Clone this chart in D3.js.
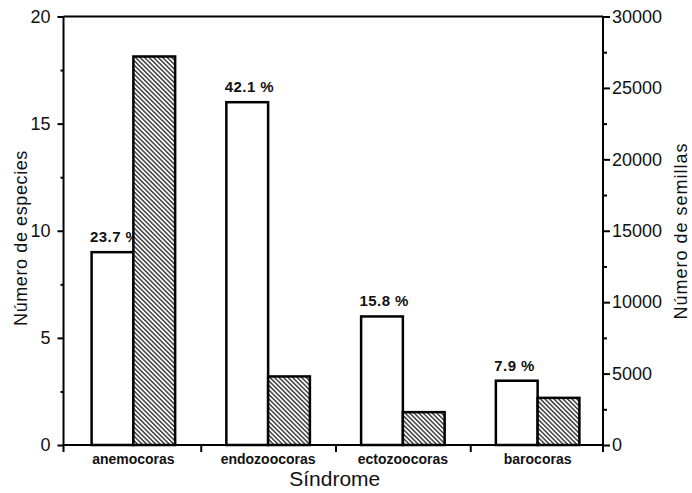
<!DOCTYPE html>
<html>
<head>
<meta charset="utf-8">
<script src="https://cdn.jsdelivr.net/npm/d3@7/dist/d3.min.js"></script>
<style>
  html, body { margin: 0; padding: 0; background: #fff; }
  svg { display: block; font-family: "Liberation Sans", Arial, Helvetica, sans-serif; }
  .axis path.domain { display: none; }
  .axis line { stroke: #000; stroke-width: 2; }
  .axis text { fill: #111; }
</style>
</head>
<body>
<svg id="chart" width="692" height="493"></svg>
<script>
// Dispersal syndromes: number of species (left axis) and number of seeds (right axis)
const categories = ["anemocoras", "endozoocoras", "ectozoocoras", "barocoras"];
const especies = [9, 16, 6, 3];
const semillas = [27200, 4800, 2300, 3300];
const porcentajes = [23.7, 42.1, 15.8, 7.9];
const especiesTicks = [0, 5, 10, 15, 20];
const especiesMinor = [2.5, 7.5, 12.5, 17.5];
const semillasTicks = [0, 5000, 10000, 15000, 20000, 25000, 30000];
const semillasMinor = [2500, 7500, 12500, 17500, 22500, 27500];

const svg = d3.select("#chart");
const plotLeft = 63.5, plotRight = 603, plotTop = 16.5, plotBottom = 445;

const y = d3.scaleLinear().domain([0, 20]).range([plotBottom, plotTop]);
const y2 = d3.scaleLinear().domain([0, 30000]).range([plotBottom, plotTop]);
const x = d3.scaleBand().domain(categories).range([66, 605]).padding(0);
const xEdge = d3.scaleLinear().domain([0, categories.length]).range([66, 605]);
const barW = x.bandwidth() * 0.31;

// Hatch pattern for the seed bars
const defs = svg.append("defs");
const pat = defs.append("pattern")
  .attr("id", "hatch")
  .attr("patternUnits", "userSpaceOnUse")
  .attr("width", 3.2).attr("height", 3.2)
  .attr("patternTransform", "rotate(-45)");
pat.append("rect").attr("width", 3.2).attr("height", 3.2).attr("fill", "#fff");
pat.append("line").attr("x1", 0.8).attr("y1", 0).attr("x2", 0.8).attr("y2", 3.2)
  .attr("stroke", "#222").attr("stroke-width", 1.3);

// Species bars (white)
const g = svg.append("g");
categories.forEach((c, i) => {
  const cx = x(c) + x.bandwidth() / 2;
  g.append("rect")
    .attr("x", cx - barW).attr("y", y(especies[i]))
    .attr("width", barW).attr("height", y(0) - y(especies[i]))
    .attr("fill", "#fff").attr("stroke", "#000").attr("stroke-width", 2.5);
  g.append("text")
    .attr("x", cx - barW - 1.5).attr("y", y(especies[i]) - 10)
    .attr("font-size", 15).attr("font-weight", "bold").attr("letter-spacing", 0.4).attr("fill", "#111")
    .text(porcentajes[i].toFixed(1) + " %");
});

// Seed bars (hatched), drawn over the labels
categories.forEach((c, i) => {
  const cx = x(c) + x.bandwidth() / 2;
  g.append("rect")
    .attr("x", cx).attr("y", y2(semillas[i]))
    .attr("width", barW).attr("height", y2(0) - y2(semillas[i]))
    .attr("fill", "url(#hatch)").attr("stroke", "#000").attr("stroke-width", 2.5);
});

// Frame
const frame = svg.append("g").attr("stroke", "#000").attr("stroke-width", 2).attr("fill", "none");
frame.append("line").attr("x1", plotLeft).attr("x2", plotRight).attr("y1", plotTop).attr("y2", plotTop);
frame.append("line").attr("x1", plotLeft).attr("x2", plotRight).attr("y1", plotBottom).attr("y2", plotBottom);
frame.append("line").attr("x1", plotLeft).attr("x2", plotLeft).attr("y1", plotTop).attr("y2", plotBottom + 7);
frame.append("line").attr("x1", plotRight).attr("x2", plotRight).attr("y1", plotTop).attr("y2", plotBottom + 7);

// Left axis
svg.append("g").attr("class", "axis").attr("transform", `translate(${plotLeft},0)`)
  .call(d3.axisLeft(y).tickValues(especiesTicks).tickSize(6).tickPadding(7).tickSizeOuter(0).tickFormat(d3.format("d")))
  .selectAll("text").attr("font-size", 18);
svg.append("g").attr("class", "axis").attr("transform", `translate(${plotLeft},0)`)
  .call(d3.axisLeft(y).tickValues(especiesMinor).tickSize(3).tickFormat("").tickSizeOuter(0));

// Right axis
svg.append("g").attr("class", "axis").attr("transform", `translate(${plotRight},0)`)
  .call(d3.axisRight(y2).tickValues(semillasTicks).tickSize(7).tickPadding(2).tickSizeOuter(0).tickFormat(d3.format("d")))
  .selectAll("text").attr("font-size", 18);
svg.append("g").attr("class", "axis").attr("transform", `translate(${plotRight},0)`)
  .call(d3.axisRight(y2).tickValues(semillasMinor).tickSize(4).tickFormat("").tickSizeOuter(0));

// Bottom axis: ticks between categories, labels at category centres
svg.append("g").attr("class", "axis").attr("transform", `translate(0,${plotBottom})`)
  .call(d3.axisBottom(xEdge).tickValues(d3.range(1, categories.length)).tickSize(7).tickFormat("").tickSizeOuter(0));
svg.append("g").selectAll("text").data(categories).join("text")
  .attr("x", d => x(d) + x.bandwidth() / 2).attr("y", 464)
  .attr("text-anchor", "middle").attr("font-size", 14).attr("font-weight", "bold").attr("fill", "#111")
  .text(d => d);

// Axis titles
svg.append("text")
  .attr("x", (plotLeft + plotRight) / 2 + 1.5).attr("y", 486)
  .attr("text-anchor", "middle").attr("font-size", 21).attr("fill", "#111")
  .text("Síndrome");
svg.append("text")
  .attr("transform", "translate(27,238) rotate(-90)")
  .attr("text-anchor", "middle").attr("font-size", 18).attr("letter-spacing", 0.6).attr("fill", "#111")
  .text("Número de especies");
svg.append("text")
  .attr("transform", "translate(687,231) rotate(-90)")
  .attr("text-anchor", "middle").attr("font-size", 18).attr("letter-spacing", 1).attr("fill", "#111")
  .text("Número de semillas");
</script>
</body>
</html>
